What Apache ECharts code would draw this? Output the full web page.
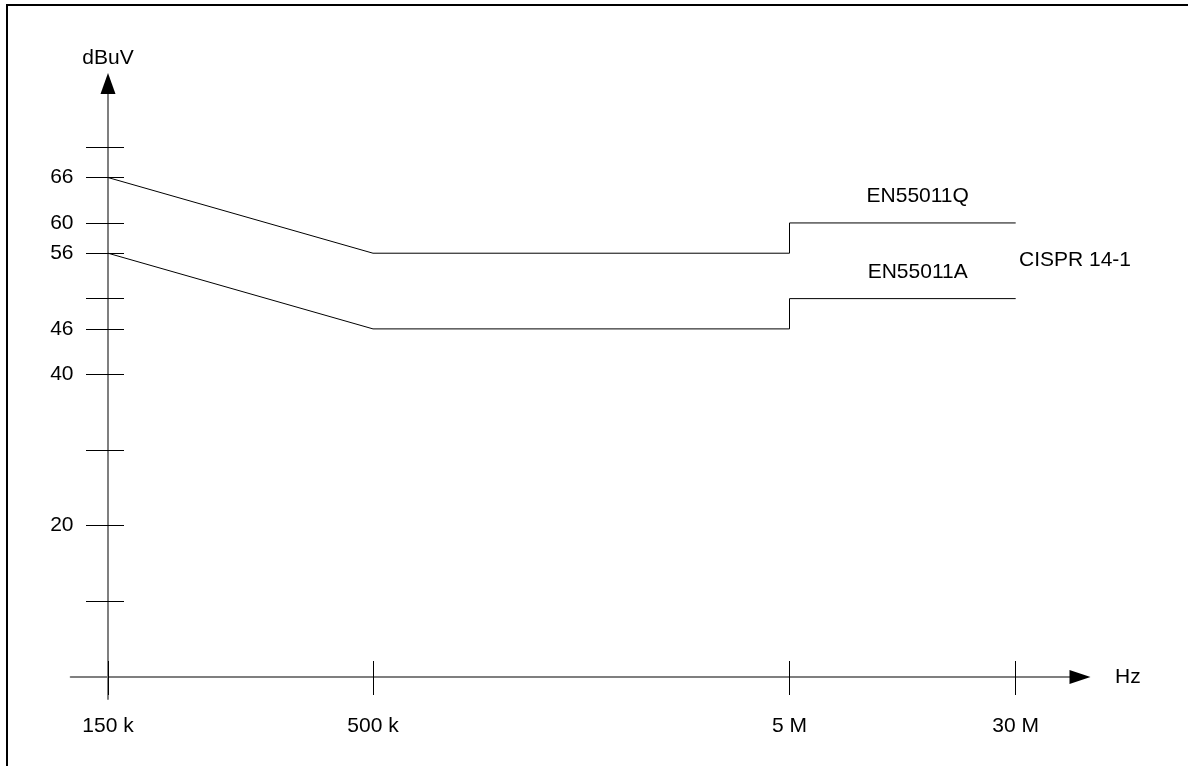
<!DOCTYPE html>
<html>
<head>
<meta charset="utf-8">
<title>CISPR 14-1 limits</title>
<script src="https://cdn.jsdelivr.net/npm/echarts@6/dist/echarts.min.js"></script>
<style>
  html, body { margin: 0; padding: 0; background: #fff; }
  #chart { position: absolute; left: 0; top: 0; width: 1188px; height: 766px; }
  /* frame: only top and left edges are visible */
  .frame {
    position: absolute; left: 6px; top: 4px; width: 1182px; height: 762px;
    border-left: 2px solid #000; border-top: 2px solid #000; pointer-events: none;
  }
</style>
</head>
<body>
<div id="chart"></div>
<div class="frame"></div>
<script>
// frequency axis is schematic (not log), so each label has its own position
const freqLabels = ["150 k", "500 k", "5 M", "30 M"];
const freqPos = [0, 265, 681.5, 907.7];

// limit lines: index into freq arrays + level in dBuV
const qpFreq = [0, 1, 2, 2, 3];
const qpValues = [66, 56, 56, 60, 60]; // EN55011Q
const avFreq = [0, 1, 2, 2, 3];
const avValues = [56, 46, 46, 50, 50]; // EN55011A

// y axis ticks (all) and the labelled ones
const yTicks = [10, 20, 30, 40, 46, 50, 56, 60, 66, 70];
const yLabels = [20, 40, 46, 56, 60, 66];

const FONT = "Liberation Sans, Arial, sans-serif";
const FS = 21;
const AXIS_GRAY = "#7f7f7f";

function toData(idx, vals) {
  return idx.map(function (f, i) {
    return [freqPos[f], vals[i]];
  });
}

let chart = echarts.init(document.getElementById("chart"));

// label of a limit line: only on its last point
function lineLabel(name, count) {
  return {
    show: true,
    position: "top",
    distance: 16,
    offset: [-98, 0],
    color: "#000",
    fontFamily: FONT,
    fontSize: FS,
    formatter: function (p) {
      return p.dataIndex === count - 1 ? name : "";
    },
  };
}

let option = {
  animation: false,
  backgroundColor: "#fff",
  grid: {
    left: 70.7,
    right: 108,
    top: 83.4,
    bottom: 67,
    outerBoundsMode: "none",
    containLabel: false,
  },
  xAxis: [
    {
      // gray axis line, sits on y = 0
      type: "value",
      min: -37.3,
      max: 972,
      name: "Hz",
      nameLocation: "end",
      nameGap: 35,
      nameMoveOverlap: false,
      nameTextStyle: { color: "#000", fontFamily: FONT, fontSize: FS },
      splitLine: { show: false },
      axisLine: {
        show: true,
        onZero: true,
        lineStyle: { color: AXIS_GRAY, width: 2 },
      },
      axisTick: {
        show: true,
        length: 18,
        customValues: freqPos,
        lineStyle: { color: "#000", width: 1 },
      },
      axisLabel: { show: false },
    },
    {
      // black arrow, upper half of the ticks + tick labels
      type: "value",
      min: -37.3,
      max: 972,
      position: "bottom",
      offset: -22,
      splitLine: { show: false },
      axisLine: {
        show: true,
        onZero: false,
        symbol: ["none", "triangle"],
        symbolSize: [14, 21],
        lineStyle: { color: "#000", width: 0 },
      },
      axisTick: {
        show: true,
        inside: true,
        length: 16,
        customValues: freqPos,
        lineStyle: { color: "#000", width: 1 },
      },
      axisLabel: {
        show: true,
        margin: 38.5,
        customValues: freqPos,
        color: "#000",
        fontFamily: FONT,
        fontSize: FS,
        formatter: function (v) {
          let i = freqPos.indexOf(v);
          return i >= 0 ? freqLabels[i] : "";
        },
      },
    },
  ],
  yAxis: [
    {
      type: "value",
      min: -2.907,
      max: 78.44,
      name: "dBuV",
      nameLocation: "end",
      nameGap: 15,
      nameMoveOverlap: false,
      nameTextStyle: { color: "#000", fontFamily: FONT, fontSize: FS },
      splitLine: { show: false },
      axisLine: {
        show: true,
        onZero: true,
        lineStyle: { color: AXIS_GRAY, width: 2 },
      },
      axisTick: {
        show: true,
        length: 22,
        customValues: yTicks,
        lineStyle: { color: "#000", width: 1 },
      },
      axisLabel: { show: false },
    },
    {
      // black arrow, right half of the ticks + tick labels
      type: "value",
      min: -2.907,
      max: 78.44,
      position: "left",
      offset: -37.3,
      splitLine: { show: false },
      axisLine: {
        show: true,
        onZero: false,
        symbol: ["none", "triangle"],
        symbolSize: [15, 21],
        lineStyle: { color: "#000", width: 0 },
      },
      axisTick: {
        show: true,
        inside: true,
        length: 16,
        customValues: yTicks,
        lineStyle: { color: "#000", width: 1 },
      },
      axisLabel: {
        show: true,
        margin: 34.5,
        customValues: yLabels,
        color: "#000",
        fontFamily: FONT,
        fontSize: FS,
      },
    },
  ],
  series: [
    {
      name: "EN55011Q",
      type: "line",
      xAxisIndex: 0,
      yAxisIndex: 0,
      data: toData(qpFreq, qpValues),
      showSymbol: true,
      symbol: "circle",
      symbolSize: 0,
      lineStyle: { color: "#000", width: 1 },
      itemStyle: { color: "#000" },
      label: lineLabel("EN55011Q", qpFreq.length),
    },
    {
      name: "EN55011A",
      type: "line",
      xAxisIndex: 0,
      yAxisIndex: 0,
      data: toData(avFreq, avValues),
      showSymbol: true,
      symbol: "circle",
      symbolSize: 0,
      lineStyle: { color: "#000", width: 1 },
      itemStyle: { color: "#000" },
      label: lineLabel("EN55011A", avFreq.length),
    },
  ],
  graphic: [
    {
      type: "text",
      left: 1019,
      top: 250,
      style: {
        text: "CISPR 14-1",
        fill: "#000",
        font: FS + "px " + FONT,
      },
    },
  ],
};

chart.setOption(option);
</script>
</body>
</html>
